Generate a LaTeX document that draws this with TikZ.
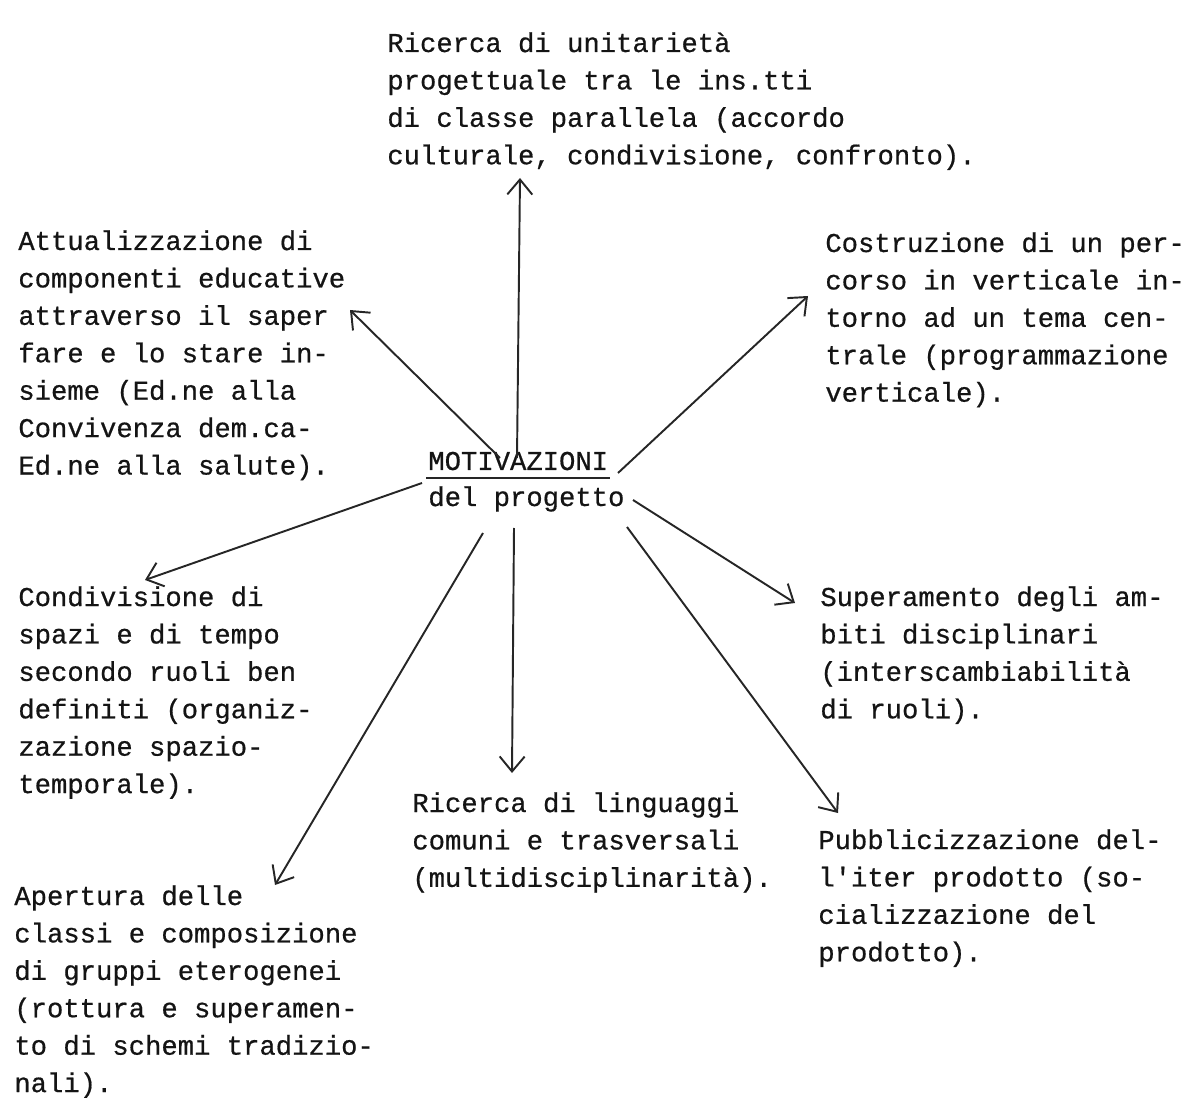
\documentclass[tikz,border=0pt]{standalone}
\usepackage{fontspec}
\newfontfamily\twfont{Liberation Mono}[FakeBold=0.6]
\usetikzlibrary{arrows.meta}
\newcommand\tblock[1]{\parbox[t]{13cm}{\raggedright #1}}
\begin{document}
\begin{tikzpicture}[x=0.02cm,y=-0.02cm,
  txt/.style={anchor=base west,inner sep=0pt,text=black!92,
    font=\twfont\fontsize{15.5pt}{21.3pt}\selectfont},
  arr/.style={line width=1.1pt,draw=black!85,
    -{Straight Barb[length=0.3cm,width=0.5cm,line width=1.1pt]}}]
\useasboundingbox (0,0) rectangle (1188,1098);
\node[txt] (top) at (387,52) {\tblock{Ricerca di unitarietà\\progettuale tra le ins.tti\\di classe parallela (accordo\\culturale, condivisione, confronto).}};
\node[txt] (ul) at (18,250) {\tblock{Attualizzazione di\\componenti educative\\attraverso il saper\\fare e lo stare in-\\sieme (Ed.ne alla\\Convivenza dem.ca-\\Ed.ne alla salute).}};
\node[txt] (ur) at (825,252) {\tblock{Costruzione di un per-\\corso in verticale in-\\torno ad un tema cen-\\trale (programmazione\\verticale).}};
\node[txt] (mot) at (428,470) {MOTIVAZIONI};
\node[txt] (del) at (428,506) {del progetto};
\draw[line width=0.9pt,black!85] ([shift={(-2,8)}]mot.base west) -- ([shift={(2,8)}]mot.base east);
\node[txt] (l) at (18,606) {\tblock{Condivisione di\\spazi e di tempo\\secondo ruoli ben\\definiti (organiz-\\zazione spazio-\\temporale).}};
\node[txt] (r) at (820,606) {\tblock{Superamento degli am-\\biti disciplinari\\(interscambiabilità\\di ruoli).}};
\node[txt] (d) at (412,812) {\tblock{Ricerca di linguaggi\\comuni e trasversali\\(multidisciplinarità).}};
\node[txt] (dr) at (818,849) {\tblock{Pubblicizzazione del-\\l'iter prodotto (so-\\cializzazione del\\prodotto).}};
\node[txt] (dl) at (14,905) {\tblock{Apertura delle\\classi e composizione\\di gruppi eterogenei\\(rottura e superamen-\\to di schemi tradizio-\\nali).}};
% arrow end points
\coordinate (sUp) at (517,458); \coordinate (eUp) at (520,178);
\coordinate (sUL) at (500,458); \coordinate (eUL) at (350,310);
\coordinate (sUR) at (618,473); \coordinate (eUR) at (808,296);
\coordinate (sL) at (422,483); \coordinate (eL) at (145,580);
\coordinate (sR) at (633,500); \coordinate (eR) at (795,603);
\coordinate (sDL) at (483,533); \coordinate (eDL) at (275,885);
\coordinate (sD) at (514,528); \coordinate (eD) at (512,773);
\coordinate (sDR) at (627,527); \coordinate (eDR) at (838,813);
\draw[arr] (sUp) -- (eUp);
\draw[arr] (sUL) -- (eUL);
\draw[arr] (sUR) -- (eUR);
\draw[arr] (sL) -- (eL);
\draw[arr] (sR) -- (eR);
\draw[arr] (sDL) -- (eDL);
\draw[arr] (sD) -- (eD);
\draw[arr] (sDR) -- (eDR);
\end{tikzpicture}
\end{document}
